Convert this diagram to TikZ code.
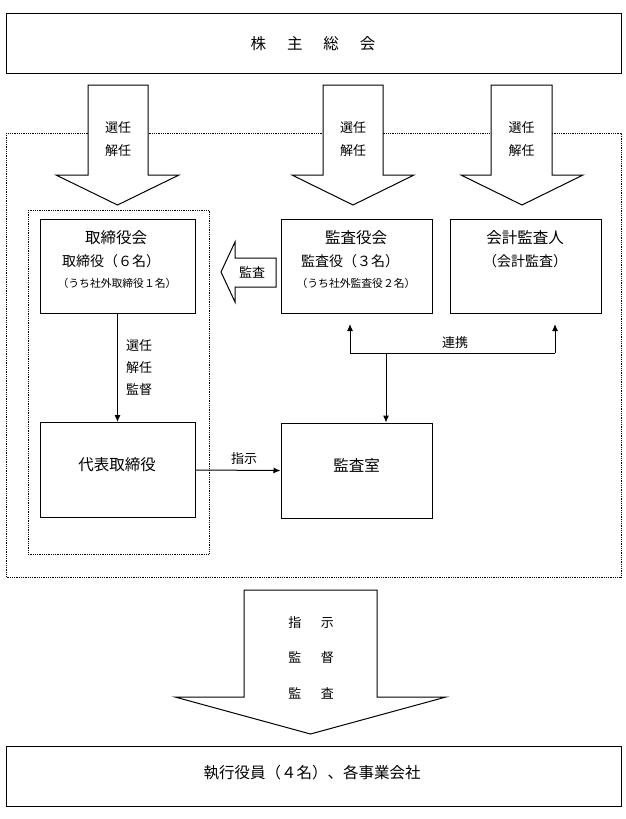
\documentclass[tikz,border=0pt]{standalone}
\usepackage{fontspec}
\setmainfont{Noto Sans CJK JP}
\usetikzlibrary{arrows.meta}
\newcommand\blkarrow[7]{%
  \draw[blk] (#1,#3) -- (#2,#3) -- (#2,#4) -- (#6,#4) -- ({(#5+#6)/2},#7) -- (#5,#4) -- (#1,#4) -- cycle;}
\begin{document}
\begin{tikzpicture}[x=1pt,y=-1pt,
  box/.style={draw, line width=1pt, fill=white, inner sep=0pt},
  dotbox/.style={draw, line width=0.8pt, densely dotted},
  blk/.style={draw, line width=1pt, fill=white, line join=miter},
  conn/.style={line width=1pt, -{Latex[length=7pt,width=6pt]}},
  plain/.style={line width=1pt},
  big/.style={font=\fontsize{15.5}{18}\selectfont, inner sep=0pt},
  mid/.style={font=\fontsize{14}{17}\selectfont, inner sep=0pt},
  lab/.style={font=\fontsize{13}{16}\selectfont, inner sep=0pt},
  sml/.style={font=\fontsize{10.8}{13}\selectfont, inner sep=0pt}]
\useasboundingbox (0,0) rectangle (626,819);
\fill[white] (0,0) rectangle (626,819);

% dotted frames
\draw[dotbox] (6,133) rectangle (621,577);
\draw[dotbox] (28,210) rectangle (209,554);

% block arrows from the shareholders' meeting
\blkarrow{88}{148}{85}{175}{56}{179}{205}
\blkarrow{323}{383}{85}{175}{292}{414}{205}
\blkarrow{491}{552}{85}{175}{461}{583}{205}
\node[lab] (a1t) at (118,128) {選任};
\node[lab] (a1b) at (118,151) {解任};
\node[lab] (a2t) at (353,128) {選任};
\node[lab] (a2b) at (353,151) {解任};
\node[lab] (a3t) at (521.5,128) {選任};
\node[lab] (a3b) at (521.5,151) {解任};

% left-pointing audit arrow
\draw[blk] (221,272) -- (235,242) -- (235,258) -- (276,258) -- (276,287) -- (235,287) -- (235,302) -- cycle;
\node[lab] (kansaLbl) at (252,272) {監査};

% big bottom arrow
\blkarrow{244}{377}{590}{697}{175}{446}{734}
\node[lab] (b1) at (311,623) {指\hspace{1.5em}示};
\node[lab] (b2) at (311,658) {監\hspace{1.5em}督};
\node[lab] (b3) at (311,693) {監\hspace{1.5em}査};

% boxes
\node[box, minimum width=615pt, minimum height=60pt] (soukai) at (313.5,43) {};
\node[big] (soukaiT) at (313,44) {株\hspace{1.35em}主\hspace{1.35em}総\hspace{1.35em}会};

\node[box, minimum width=155pt, minimum height=94pt] (tori) at (117.5,266) {};
\node[big] (tori1) at (116,238) {取締役会};
\node[mid] (tori2) at (111,261) {取締役（６名）};
\node[sml] (tori3) at (117,283) {（うち社外取締役１名）};

\node[box, minimum width=151pt, minimum height=94pt] (kansayaku) at (356.5,266) {};
\node[big] (ky1) at (356,238) {監査役会};
\node[mid] (ky2) at (350,261) {監査役（３名）};
\node[sml] (ky3) at (356,283) {（うち社外監査役２名）};

\node[box, minimum width=151pt, minimum height=94pt] (kaikei) at (525.5,266) {};
\node[big] (kk1) at (525,238) {会計監査人};
\node[mid] (kk2) at (525,261) {（会計監査）};

\node[box, minimum width=155pt, minimum height=95pt] (daihyo) at (117.5,470) {};
\node[big] (daihyoT) at (117,465) {代表取締役};

\node[box, minimum width=151pt, minimum height=95pt] (shitsu) at (356.5,470.5) {};
\node[big] (shitsuT) at (356.5,465) {監査室};

\node[box, minimum width=615pt, minimum height=60pt] (shikko) at (313.5,776) {};
\node[big] (shikkoT) at (312,773) {執行役員（４名）、各事業会社};

% connectors
\draw[conn] (tori.south) -- (daihyo.north);
\node[lab] (senL) at (139,346) {選任};
\node[lab] (kaiL) at (139,368) {解任};
\node[lab] (kanL) at (139,390) {監督};

\draw[conn] (daihyo.east) -- (shitsu.west);
\node[lab] (shijiL) at (244,459) {指示};

\coordinate (jn) at (386,353);
\coordinate (bl) at (350,353);
\coordinate (br) at (555,353);
\coordinate (blt) at (350,324);
\coordinate (brt) at (555,324);
\draw[plain] (bl) -- (br);
\draw[conn] (bl) -- (blt);
\draw[conn] (br) -- (brt);
\draw[conn] (jn) -- (jn |- shitsu.north);
\node[lab] (renkei) at (455,343) {連携};
\end{tikzpicture}
\end{document}
